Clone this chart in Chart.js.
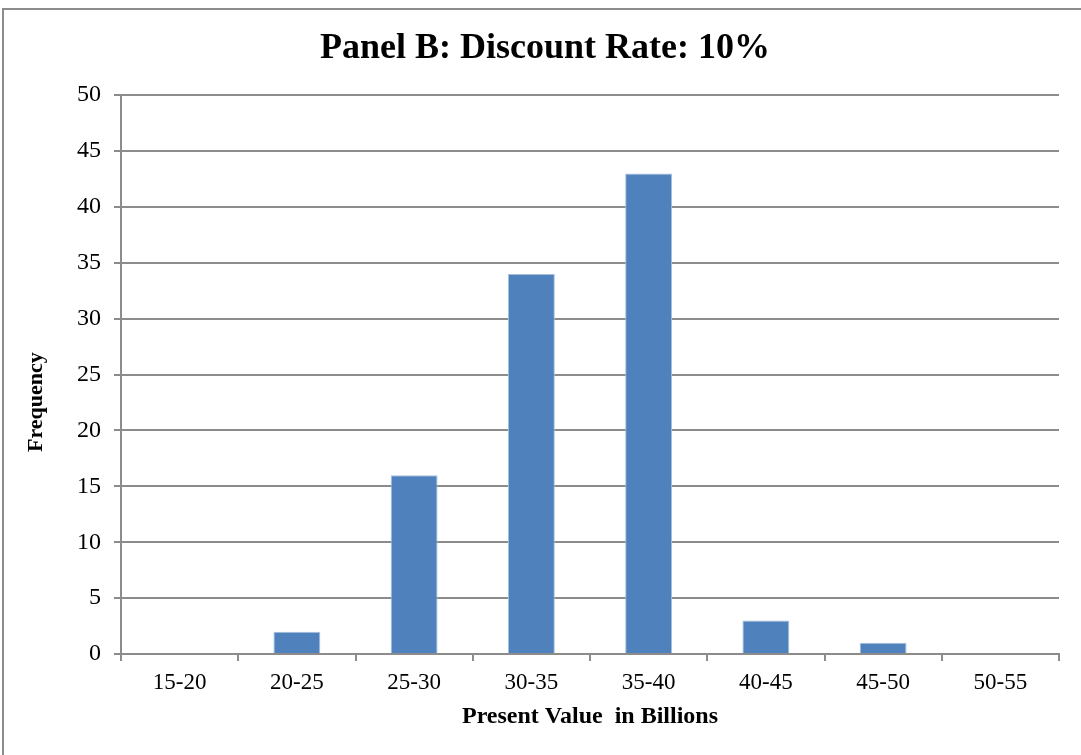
<!DOCTYPE html>
<html lang="en">
    <head>
        <meta charset="UTF-8">
        <title>Panel B: Discount Rate: 10%</title>
        <style>
            body {
                margin: 0;
                background: #ffffff;
                overflow: hidden;
            }
            .frame {
                position: absolute;
                left: 2px;
                top: 8px;
                width: 1200px;
                height: 900px;
                border: 2px solid #8c8c8c;
            }
            #pvChart {
                position: absolute;
                left: 0;
                top: 0;
            }
        </style>
    </head>

    <body>
        <div class="frame"></div>
        <canvas id="pvChart" width="1081" height="755"></canvas>

        <script src="https://cdn.jsdelivr.net/npm/chart.js"></script>
        <script>
            // интервалы приведённой стоимости (млрд) и частоты
            const categories = ['15-20', '20-25', '25-30', '30-35', '35-40', '40-45', '45-50', '50-55'];
            const frequencies = [0, 2, 16, 34, 43, 3, 1, 0];
            const yMin = 0;
            const yMax = 50;
            const yStep = 5;

            const serif = 'Liberation Serif';
            const gridColor = '#8c8c8c';

            const ctx = document.getElementById('pvChart').getContext('2d');
            const myChart = new Chart(ctx, {
                type: 'bar',
                data: {
                    labels: categories,
                    datasets: [{
                        label: 'Frequency',
                        data: frequencies,
                        backgroundColor: '#4f81bd',
                        borderColor: '#a7bfdd',
                        borderWidth: 1,
                        barPercentage: 0.4,
                        categoryPercentage: 1
                    }]
                },
                options: {
                    responsive: false,
                    animation: false,
                    devicePixelRatio: 1,
                    layout: {
                        // левый отступ сдвигает заголовок вправо, ось Y компенсирует его
                        padding: { left: 31, right: 22, top: 0, bottom: 0 }
                    },
                    plugins: {
                        legend: { display: false },
                        tooltip: { enabled: false },
                        title: {
                            display: true,
                            text: 'Panel B: Discount Rate: 10%',
                            color: '#000000',
                            font: { family: serif, size: 36, weight: 'bold' },
                            padding: { top: 27, bottom: 25 }
                        }
                    },
                    scales: {
                        x: {
                            afterFit: (scale) => { scale.height = 101; },
                            grid: {
                                display: true,
                                drawOnChartArea: false,
                                drawTicks: true,
                                tickLength: 7,
                                color: gridColor,
                                lineWidth: 2
                            },
                            border: { color: gridColor, width: 2 },
                            ticks: {
                                color: '#000000',
                                padding: 8,
                                font: { family: serif, size: 23 }
                            },
                            title: {
                                display: true,
                                text: 'Present Value  in Billions',
                                color: '#000000',
                                font: { family: serif, size: 24, weight: 'bold' },
                                padding: { top: 0, bottom: 24 }
                            }
                        },
                        y: {
                            min: yMin,
                            max: yMax,
                            afterFit: (scale) => { scale.width = 90; },
                            grid: {
                                color: gridColor,
                                lineWidth: 2,
                                tickLength: 7
                            },
                            border: { color: gridColor, width: 2 },
                            ticks: {
                                stepSize: yStep,
                                color: '#000000',
                                padding: 13,
                                font: { family: serif, size: 24 }
                            },
                            title: {
                                display: true,
                                // хвостовые пробелы сдвигают подпись чуть ниже центра оси
                                text: 'Frequency          ',
                                color: '#000000',
                                font: { family: serif, size: 22, weight: 'bold' },
                                padding: { top: -8, bottom: 0 }
                            }
                        }
                    }
                }
            });
        </script>
    </body>
</html>
